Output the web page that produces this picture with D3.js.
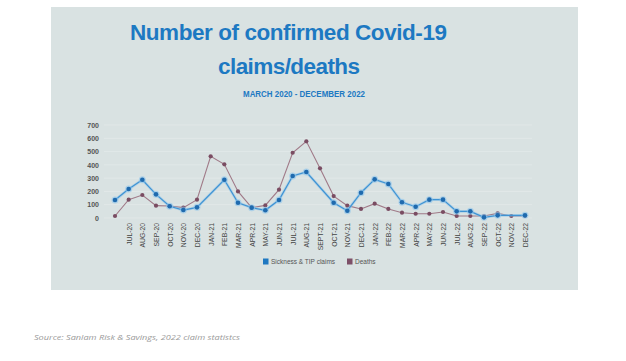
<!DOCTYPE html>
<html><head><meta charset="utf-8">
<script src="https://cdn.jsdelivr.net/npm/d3@7"></script>
<style>html,body{margin:0;padding:0;background:#fff;}svg{display:block;}</style>
</head><body>
<script>
const categories = ["", "JUL-20","AUG-20","SEP-20","OCT-20","NOV-20","DEC-20","JAN-21","FEB-21","MAR-21","APR-21","MAY-21","JUN-21","JUL-21","AUG-21","SEPT-21","OCT-21","NOV-21","DEC-21","JAN-22","FEB-22","MAR-22","APR-22","MAY-22","JUN-22","JUL-22","AUG-22","SEP-22","OCT-22","NOV-22","DEC-22"];
const sickness = [135,218,288,178,88,60,80,null,288,115,78,58,135,316,346,null,115,55,190,291,256,118,85,138,138,50,50,5,20,null,20];
const deaths   = [15,138,173,93,90,78,138,464,404,200,78,95,213,491,577,374,165,93,68,108,68,40,32,32,45,15,15,15,35,15,15];
const yTicks = [0,100,200,300,400,500,600,700];
const seriesNames = ["Sickness & TIP claims","Deaths"];
const titleLines = ["Number of confirmed Covid-19","claims/deaths"];
const subtitle = "MARCH 2020 - DECEMBER 2022";
const source = "Source: Sanlam Risk & Savings, 2022 claim statistcs";

const W = 626, H = 361;
const svg = d3.select("body").append("svg").attr("width", W).attr("height", H);

svg.append("rect").attr("x",51).attr("y",7).attr("width",527).attr("height",283).attr("fill","#d9e2e2");

const x = d3.scalePoint().domain(categories).range([115,525]);
const y = d3.scaleLinear().domain([0,700]).range([218,125]);

// gridlines
svg.append("g").selectAll("line").data(yTicks).join("line")
  .attr("x1",104).attr("x2",532).attr("y1",d=>y(d)).attr("y2",d=>y(d))
  .attr("stroke","#e3eaea").attr("stroke-width",0.8);

// title
svg.append("text").attr("x",288.5).attr("y",39.5).attr("text-anchor","middle")
  .attr("font-family","Liberation Sans, Arial, sans-serif").attr("font-weight","bold")
  .attr("font-size",22.5).attr("fill","#1d79c2").attr("textLength",317).attr("lengthAdjust","spacing")
  .text(titleLines[0]);
svg.append("text").attr("x",289).attr("y",74).attr("text-anchor","middle")
  .attr("font-family","Liberation Sans, Arial, sans-serif").attr("font-weight","bold")
  .attr("font-size",22.5).attr("fill","#1d79c2").attr("textLength",142).attr("lengthAdjust","spacing")
  .text(titleLines[1]);
svg.append("text").attr("x",304).attr("y",97).attr("text-anchor","middle")
  .attr("font-family","Liberation Sans, Arial, sans-serif").attr("font-weight","bold")
  .attr("font-size",8.5).attr("fill","#1d79c2").attr("textLength",122).attr("lengthAdjust","spacingAndGlyphs")
  .text(subtitle);

// y axis
const yAxis = svg.append("g").attr("transform","translate(99,0)")
  .call(d3.axisLeft(y).tickValues(yTicks).tickSize(0).tickPadding(0));
yAxis.select(".domain").remove();
yAxis.selectAll("text").attr("font-family","Liberation Sans, Arial, sans-serif").attr("font-weight","bold")
  .attr("font-size",7).attr("fill","#555");

// x axis
const xAxis = svg.append("g").attr("transform","translate(0,223)")
  .call(d3.axisBottom(x).tickSize(0).tickPadding(0));
xAxis.select(".domain").remove();
xAxis.selectAll("text").attr("font-family","Liberation Sans, Arial, sans-serif")
  .attr("font-size",6.8).attr("fill","#444")
  .attr("transform","rotate(-90)").attr("text-anchor","end").attr("dy","0.35em").attr("x",0).attr("y",0);

function drawSeries(vals, lineColor, markColor, haloColor, lw, r) {
  const pts = categories.map((c,i)=>({c, v: vals[i]})).filter(d=>d.v!=null);
  const line = d3.line().x(d=>x(d.c)).y(d=>y(d.v));
  if (haloColor) {
    svg.append("path").datum(pts).attr("d",line).attr("fill","none")
      .attr("stroke",haloColor).attr("stroke-width",lw+1.6).attr("stroke-opacity",0.5);
  }
  svg.append("path").datum(pts).attr("d",line).attr("fill","none")
    .attr("stroke",lineColor).attr("stroke-width",lw);
  const g = svg.append("g");
  if (haloColor) {
    g.selectAll("circle.h").data(pts).join("circle").attr("class","h")
      .attr("cx",d=>x(d.c)).attr("cy",d=>y(d.v)).attr("r",r+1.2).attr("fill",haloColor).attr("opacity",0.6);
  }
  g.selectAll("circle.m").data(pts).join("circle").attr("class","m")
    .attr("cx",d=>x(d.c)).attr("cy",d=>y(d.v)).attr("r",r).attr("fill",markColor);
}
drawSeries(deaths, "#a07a88", "#7a4c62", null, 1.1, 2.1);
drawSeries(sickness, "#3f93d3", "#1f6aae", "#8cc4ec", 1.2, 2.3);

// legend
const legend = [{name:seriesNames[0], color:"#1f78c1", x:263},{name:seriesNames[1], color:"#7d5068", x:347}];
const lg = svg.append("g");
legend.forEach(l=>{
  lg.append("rect").attr("x",l.x).attr("y",258.5).attr("width",5.5).attr("height",6).attr("fill",l.color);
  lg.append("text").attr("x",l.x+8).attr("y",261.7).attr("dy","0.35em")
    .attr("font-family","Liberation Sans, Arial, sans-serif").attr("font-size",6.5).attr("fill","#555").text(l.name);
});

// source
svg.append("text").attr("x",34).attr("y",339.5)
  .attr("font-family","Open Sans, sans-serif").attr("font-style","italic")
  .attr("font-size",7.2).attr("fill","#9a9a9a").attr("textLength",206).attr("lengthAdjust","spacingAndGlyphs")
  .text(source);
</script>
</body></html>
